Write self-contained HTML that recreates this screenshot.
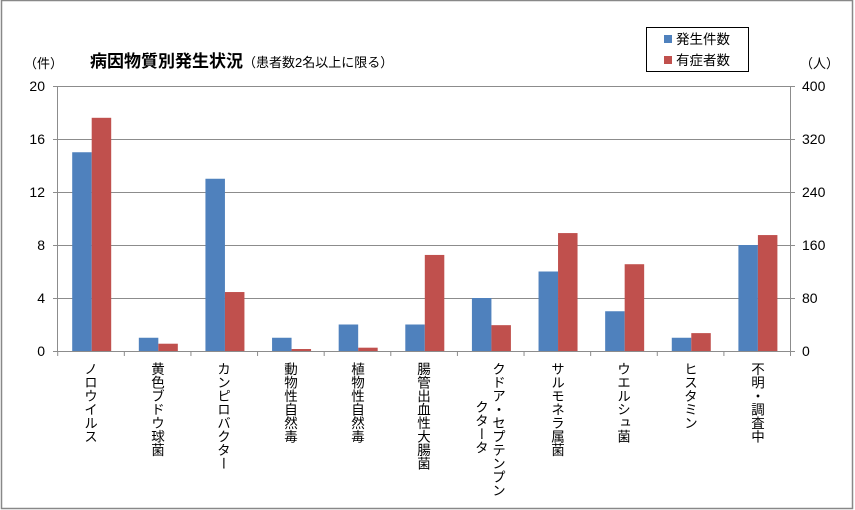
<!DOCTYPE html>
<html><head><meta charset="utf-8"><style>
body{margin:0;background:#fff;}
#c{position:relative;width:855px;height:510px;overflow:hidden;font-family:"Liberation Sans","Noto Sans CJK JP",sans-serif;color:#000;}
.v{position:absolute;writing-mode:vertical-rl;font-size:13.5px;line-height:15px;letter-spacing:0;white-space:nowrap;}
</style></head><body><div id="c">
<svg width="855" height="510" style="position:absolute;left:0;top:0" font-family="Liberation Sans, Noto Sans CJK JP, sans-serif">
<rect x="1.5" y="0.5" width="851" height="508" fill="none" stroke="#888" stroke-width="1.5"/>
<g stroke="#8c8c8c" stroke-width="1">
<line x1="53" y1="86.5" x2="790" y2="86.5"/>
<line x1="53" y1="139.5" x2="790" y2="139.5"/>
<line x1="53" y1="192.5" x2="790" y2="192.5"/>
<line x1="53" y1="245.5" x2="790" y2="245.5"/>
<line x1="53" y1="298.5" x2="790" y2="298.5"/>
<line x1="53" y1="351.5" x2="795" y2="351.5"/>
<line x1="57.5" y1="86" x2="57.5" y2="351"/>
<line x1="790.5" y1="86" x2="790.5" y2="356"/>
<line x1="790" y1="86.5" x2="795" y2="86.5"/>
<line x1="790" y1="139.5" x2="795" y2="139.5"/>
<line x1="790" y1="192.5" x2="795" y2="192.5"/>
<line x1="790" y1="245.5" x2="795" y2="245.5"/>
<line x1="790" y1="298.5" x2="795" y2="298.5"/>
</g>
<g stroke="#8c8c8c" id="ticks"></g>
<g id="bars"></g>
<g font-size="14" text-anchor="end">
<text x="45" y="91">20</text><text x="45" y="144">16</text><text x="45" y="197">12</text>
<text x="45" y="250">8</text><text x="45" y="303">4</text><text x="45" y="356">0</text>
</g>
<g font-size="14" text-anchor="start">
<text x="802" y="91">400</text><text x="802" y="144">320</text><text x="802" y="197">240</text>
<text x="802" y="250">160</text><text x="802" y="303">80</text><text x="802" y="356">0</text>
</g>
<text x="24" y="68" font-size="13">（件）</text>
<text x="800" y="68" font-size="13">（人）</text>
<text x="90" y="67" font-size="17" font-weight="bold">病因物質別発生状況<tspan font-size="13" font-weight="normal">（患者数2名以上に限る）</tspan></text>
<rect x="646.5" y="27.5" width="102" height="44" fill="#fff" stroke="#000"/>
<rect x="664" y="35" width="8" height="8" fill="#4f81bd"/>
<rect x="664" y="56" width="8" height="8" fill="#c0504d"/>
<text x="676" y="44" font-size="13.5">発生件数</text>
<text x="676" y="65" font-size="13.5">有症者数</text>
</svg>
<div class="v" style="left:82px;top:362px">ノロウイルス</div>
<div class="v" style="left:149px;top:362px">黄色ブドウ球菌</div>
<div class="v" style="left:215px;top:362px">カンピロバクター</div>
<div class="v" style="left:282px;top:362px">動物性自然毒</div>
<div class="v" style="left:349px;top:362px">植物性自然毒</div>
<div class="v" style="left:415px;top:362px">腸管出血性大腸菌</div>
<div class="v" style="left:490px;top:362px">クドア・セプテンプン</div>
<div class="v" style="left:473px;top:400px">クタータ</div>
<div class="v" style="left:549px;top:362px">サルモネラ属菌</div>
<div class="v" style="left:615px;top:362px">ウエルシュ菌</div>
<div class="v" style="left:682px;top:362px">ヒスタミン</div>
<div class="v" style="left:749px;top:362px">不明・調査中</div>
<script>
var b=[15,1,13,1,2,2,4,6,3,1,8],r=[352,11,89,3,5,145,39,178,131,27,175];
var s='',t='',w=66.62;
for(var i=0;i<11;i++){var x0=57.7+i*w;
var hb=b[i]*13.25,hr=r[i]*0.6625;
s+='<rect x="'+(x0+14.5)+'" y="'+(351-hb)+'" width="19.5" height="'+hb+'" fill="#4f81bd"/>';
s+='<rect x="'+(x0+34)+'" y="'+(351-hr)+'" width="19.5" height="'+hr+'" fill="#c0504d"/>';
t+='<line x1="'+x0+'" y1="351" x2="'+x0+'" y2="356"/>';}
document.getElementById('bars').innerHTML=s;
document.getElementById('ticks').innerHTML=t;
</script>
</div></body></html>
